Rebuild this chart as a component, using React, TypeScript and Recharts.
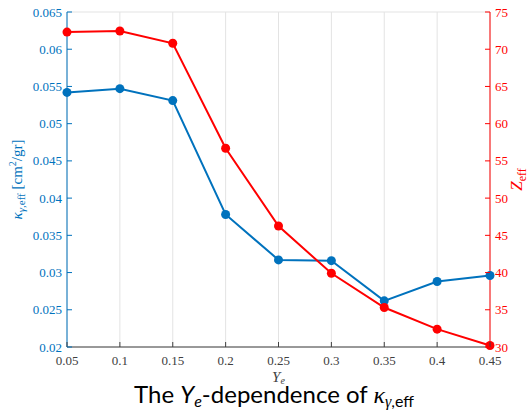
import React from 'react';
import { CartesianGrid, ComposedChart, Label, Line, XAxis, YAxis } from 'recharts';

// Y_e grid and the two effective quantities
const yeValues = [0.05, 0.1, 0.15, 0.2, 0.25, 0.3, 0.35, 0.4, 0.45];
const kappaEff = [0.0542, 0.0547, 0.0531, 0.0378, 0.0317, 0.0316, 0.0262, 0.0288, 0.0296];
const zEff = [72.3, 72.45, 70.8, 56.7, 46.25, 39.9, 35.3, 32.4, 30.2];

const xTicks = [0.05, 0.1, 0.15, 0.2, 0.25, 0.3, 0.35, 0.4, 0.45];
const kappaTicks = [0.02, 0.025, 0.03, 0.035, 0.04, 0.045, 0.05, 0.055, 0.06, 0.065];
const zTicks = [30, 35, 40, 45, 50, 55, 60, 65, 70, 75];

const data = yeValues.map((ye, i) => ({ ye, kappa: kappaEff[i], z: zEff[i] }));

const BLUE = '#0072BD';
const RED = '#FF0000';
const AXIS_GRAY = '#404040';
const SERIF = '"Liberation Serif", "Times New Roman", serif';
const SANS = 'Lato, "Open Sans", sans-serif';
const TICK_LEN = 5;

const W = 532;
const H = 410;
const PLOT_L = 67;
const PLOT_R = 490;
const PLOT_T = 12;
const PLOT_B = 347;

function LeftTick({ x, y, payload }: any) {
  return (
    <g>
      <line x1={x} x2={x + TICK_LEN} y1={y} y2={y} stroke={BLUE} />
      <text x={x - 5} y={y} dy="0.35em" textAnchor="end" fill={BLUE} fontFamily={SERIF} fontSize={13}>
        {String(payload.value)}
      </text>
    </g>
  );
}

function RightTick({ x, y, payload }: any) {
  return (
    <g>
      <line x1={x} x2={x - TICK_LEN} y1={y} y2={y} stroke={RED} />
      <text x={x + 5} y={y} dy="0.35em" textAnchor="start" fill={RED} fontFamily={SERIF} fontSize={13}>
        {String(payload.value)}
      </text>
    </g>
  );
}

function BottomTick({ x, y, payload }: any) {
  return (
    <g>
      <line x1={x} x2={x} y1={y} y2={y - TICK_LEN} stroke={AXIS_GRAY} />
      <text x={x} y={y + 18} textAnchor="middle" fill={AXIS_GRAY} fontFamily={SERIF} fontSize={13}>
        {String(payload.value)}
      </text>
    </g>
  );
}

function TopTick({ x, y }: any) {
  return <line x1={x} x2={x} y1={y} y2={y + TICK_LEN} stroke={AXIS_GRAY} />;
}

const xLabels = () => (
  <g>
    <text x={(PLOT_L + PLOT_R) / 2} y={382} textAnchor="middle" fill={AXIS_GRAY} fontFamily={SERIF} fontSize={15} fontStyle="italic">
      Y<tspan fontSize={10} dy={2}>e</tspan>
    </text>
    <text x={274} y={403} textAnchor="middle" fill="#000" fontFamily={SANS} fontSize={24}>
      The <tspan fontStyle="italic">Y</tspan>
      <tspan fontStyle="italic" fontSize={16} dy={4}>e</tspan>
      <tspan dy={-4}>-dependence of </tspan>
      <tspan fontFamily={SERIF} fontStyle="italic">κ</tspan>
      <tspan fontSize={16} dy={4}>
        <tspan fontFamily={SERIF} fontStyle="italic">γ</tspan>,eff
      </tspan>
    </text>
  </g>
);

const leftLabel = () => (
  <text
    x={0}
    y={0}
    transform={`translate(22, ${(PLOT_T + PLOT_B) / 2}) rotate(-90)`}
    textAnchor="middle"
    fill={BLUE}
    fontFamily={SERIF}
    fontSize={15}
  >
    <tspan fontStyle="italic">κ</tspan>
    <tspan fontSize={11} dy={3}>
      <tspan fontStyle="italic">γ</tspan>,eff
    </tspan>
    <tspan dy={-3}> [cm</tspan>
    <tspan fontSize={10} dy={-6}>2</tspan>
    <tspan dy={6}>/gr]</tspan>
  </text>
);

const rightLabel = () => (
  <text
    x={0}
    y={0}
    transform={`translate(522, ${(PLOT_T + PLOT_B) / 2}) rotate(-90)`}
    textAnchor="middle"
    fill={RED}
    fontFamily={SERIF}
    fontSize={17}
  >
    <tspan fontStyle="italic">Z</tspan>
    <tspan fontSize={12} dy={4}>eff</tspan>
  </text>
);

export default function App() {
  return (
    <div style={{ position: 'absolute', left: 0, top: 0, width: W, height: H, background: '#fff' }}>
      <ComposedChart
        width={W}
        height={H}
        data={data}
        margin={{ top: PLOT_T, right: 0, bottom: 0, left: 0 }}
      >
        <CartesianGrid stroke="#e3e3e3" strokeWidth={1} verticalValues={xTicks} />
        <XAxis
          dataKey="ye"
          type="number"
          domain={[0.05, 0.45]}
          ticks={xTicks}
          interval={0}
          height={H - PLOT_B}
          axisLine={{ stroke: AXIS_GRAY }}
          tickLine={false}
          tickSize={0}
          tickMargin={0}
          tick={<BottomTick />}
        >
          <Label content={xLabels} />
        </XAxis>
        <XAxis
          xAxisId="top"
          orientation="top"
          dataKey="ye"
          type="number"
          domain={[0.05, 0.45]}
          ticks={xTicks}
          interval={0}
          height={0}
          axisLine={{ stroke: AXIS_GRAY }}
          tickLine={false}
          tickSize={0}
          tickMargin={0}
          tick={<TopTick />}
        />
        <YAxis
          yAxisId="left"
          orientation="left"
          type="number"
          domain={[0.02, 0.065]}
          ticks={kappaTicks}
          interval={0}
          width={PLOT_L}
          axisLine={{ stroke: BLUE }}
          tickLine={false}
          tickSize={0}
          tickMargin={0}
          tick={<LeftTick />}
        >
          <Label content={leftLabel} />
        </YAxis>
        <YAxis
          yAxisId="right"
          orientation="right"
          type="number"
          domain={[30, 75]}
          ticks={zTicks}
          interval={0}
          width={W - PLOT_R}
          axisLine={{ stroke: RED }}
          tickLine={false}
          tickSize={0}
          tickMargin={0}
          tick={<RightTick />}
        >
          <Label content={rightLabel} />
        </YAxis>
        <Line
          yAxisId="left"
          dataKey="kappa"
          type="linear"
          stroke={BLUE}
          strokeWidth={2}
          dot={{ r: 4.5, fill: BLUE, stroke: BLUE, strokeWidth: 0 }}
          isAnimationActive={false}
        />
        <Line
          yAxisId="right"
          dataKey="z"
          type="linear"
          stroke={RED}
          strokeWidth={2}
          dot={{ r: 4.5, fill: RED, stroke: RED, strokeWidth: 0 }}
          isAnimationActive={false}
        />
      </ComposedChart>
    </div>
  );
}
